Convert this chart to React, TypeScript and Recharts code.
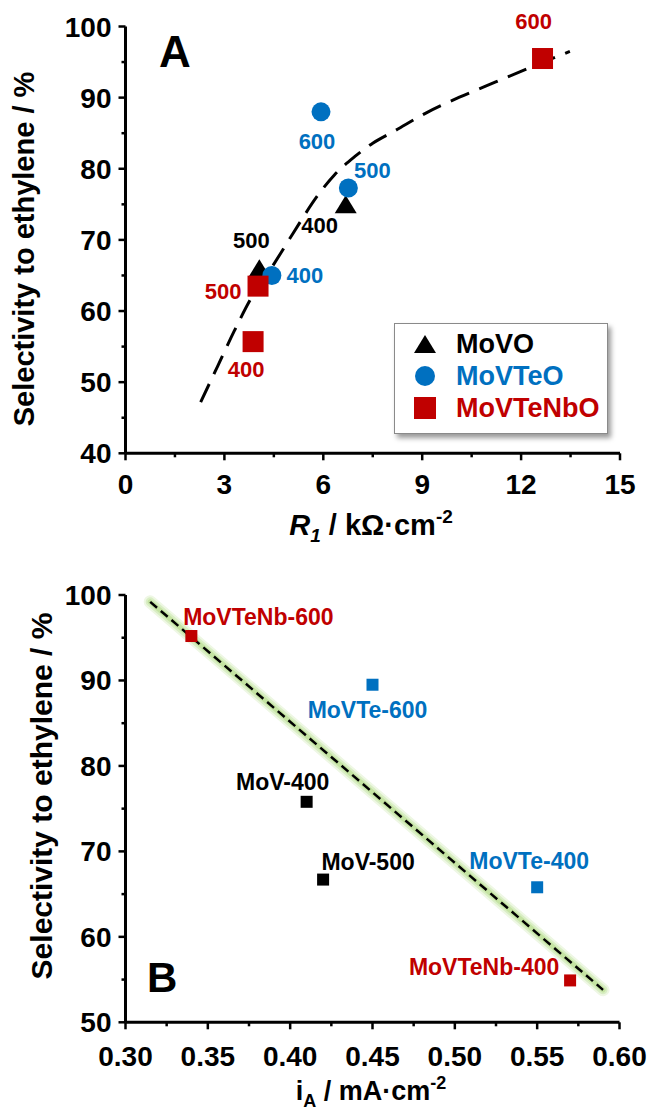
import { ScatterChart, Scatter, XAxis, YAxis, Legend, ReferenceLine } from "recharts";

// ---------- panel A: selectivity vs R1 ----------
const r1Ticks = [0, 1.5, 3, 4.5, 6, 7.5, 9, 10.5, 12, 13.5, 15];
const selTicksA = [40, 45, 50, 55, 60, 65, 70, 75, 80, 85, 90, 95, 100];

const movoR1 = [4.06, 6.68];
const movoSel = [66, 75];
const movoTemp = ["500", "400"];

const movteoR1 = [4.44, 6.76, 5.93];
const movteoSel = [65, 77.3, 88];
const movteoTemp = ["400", "500", "600"];

const movtenboR1 = [3.87, 4.02, 12.65];
const movtenboSel = [55.7, 63.5, 95.5];
const movtenboTemp = ["400", "500", "600"];

// dashed guide curve
const trendR1 = [2.28, 2.79, 3.3, 3.81, 4.5, 5.08, 5.84, 6.35, 6.95, 7.5, 8.12, 9.14, 10.15, 11.23, 12.31, 13.48];
const trendSel = [47.2, 52.2, 57.2, 61.8, 66.6, 70.9, 76.3, 79.2, 81.7, 83.6, 85.2, 87.9, 90.1, 92.2, 94.3, 96.5];

// ---------- panel B: selectivity vs iA ----------
const iaTicks = [0.3, 0.325, 0.35, 0.375, 0.4, 0.425, 0.45, 0.475, 0.5, 0.525, 0.55, 0.575, 0.6];
const selTicksB = [50, 55, 60, 65, 70, 75, 80, 85, 90, 95, 100];

const movIa = [0.41, 0.42];
const movSelB = [75.8, 66.7];
const movNames = ["MoV-400", "MoV-500"];

const movteIa = [0.45, 0.55];
const movteSelB = [89.5, 65.8];
const movteNames = ["MoVTe-600", "MoVTe-400"];

const movtenbIa = [0.34, 0.57];
const movtenbSelB = [95.2, 54.9];
const movtenbNames = ["MoVTeNb-600", "MoVTeNb-400"];

const fitIa = [0.315, 0.59];
const fitSel = [99.2, 53.8];

// ---------- styling ----------
const FONT = "'Liberation Sans', Arial, Helvetica, sans-serif";
const BLACK = "#000000";
const BLUE = "#0070c0";
const RED = "#c00000";

// label offsets from each marker centre, in px
const offsetsA: Record<string, [number, number]> = {
  "MoVO-500": [-8, -28],
  "MoVO-400": [-26, 21],
  "MoVTeO-400": [33, 0],
  "MoVTeO-500": [24, -18],
  "MoVTeO-600": [-4, 29],
  "MoVTeNbO-400": [-7, 27],
  "MoVTeNbO-500": [-35, 5],
  "MoVTeNbO-600": [-9, -37],
};
const offsetsB: Record<string, [number, number]> = {
  "MoVTeNb-600": [67, -19],
  "MoVTe-600": [-5, 25],
  "MoV-400": [-24, -20],
  "MoV-500": [45, -18],
  "MoVTe-400": [-8, -27],
  "MoVTeNb-400": [-86, -14],
};

const toPoints = (xs: number[], ys: number[], labels: string[], prefix: string) =>
  xs.map((x, i) => ({ x, y: ys[i], label: labels[i], key: prefix ? `${prefix}-${labels[i]}` : labels[i] }));

const trendData = trendR1.map((x, i) => ({ x, y: trendSel[i] }));

function makeMarker(kind: string, size: number, color: string, fontSize: number, offsets: Record<string, [number, number]>) {
  return (props: any) => {
    const { cx, cy, payload } = props;
    if (cx == null || cy == null) return <g />;
    const [dx, dy] = offsets[payload.key] ?? [0, 0];
    let mark;
    if (kind === "square") {
      mark = <rect x={cx - size / 2} y={cy - size / 2} width={size} height={size} fill={color} />;
    } else if (kind === "circle") {
      mark = <circle cx={cx} cy={cy} r={size / 2} fill={color} />;
    } else {
      const h = size * 0.82;
      mark = (
        <polygon
          points={`${cx},${cy - h / 2} ${cx - size / 2},${cy + h / 2} ${cx + size / 2},${cy + h / 2}`}
          fill={color}
        />
      );
    }
    return (
      <g>
        {mark}
        <text
          x={cx + dx}
          y={cy + dy + fontSize * 0.36}
          textAnchor="middle"
          fill={color}
          fontFamily={FONT}
          fontWeight="bold"
          fontSize={fontSize}
        >
          {payload.label}
        </text>
      </g>
    );
  };
}

function makeYTick(majorStep: number, fmt: (v: number) => string) {
  return (props: any) => {
    const { x, y, payload } = props;
    const v = payload.value;
    const major = Math.abs(v / majorStep - Math.round(v / majorStep)) < 1e-6;
    return (
      <g>
        <line x1={x} x2={x - (major ? 7 : 4)} y1={y} y2={y} stroke={BLACK} strokeWidth={2.5} />
        {major && (
          <text x={x - 14} y={y + 10} textAnchor="end" fontFamily={FONT} fontWeight="bold" fontSize={28} fill={BLACK}>
            {fmt(v)}
          </text>
        )}
      </g>
    );
  };
}

function makeXTick(majorStep: number, fmt: (v: number) => string, labelDy: number) {
  return (props: any) => {
    const { x, y, payload } = props;
    const v = payload.value;
    const major = Math.abs(v / majorStep - Math.round(v / majorStep)) < 1e-6;
    return (
      <g>
        <line x1={x} x2={x} y1={y} y2={y + (major ? 7 : 4)} stroke={BLACK} strokeWidth={2.5} />
        {major && (
          <text x={x} y={y + labelDy} textAnchor="middle" fontFamily={FONT} fontWeight="bold" fontSize={28} fill={BLACK}>
            {fmt(v)}
          </text>
        )}
      </g>
    );
  };
}

const legendItems = [
  { name: "MoVO", color: BLACK, kind: "triangle" },
  { name: "MoVTeO", color: BLUE, kind: "circle" },
  { name: "MoVTeNbO", color: RED, kind: "square" },
];

function LegendBox() {
  return (
    <div
      style={{
        width: 214,
        height: 111,
        boxSizing: "border-box",
        border: "1.5px solid #8a8a8a",
        background: "#fff",
        boxShadow: "3px 4px 5px rgba(0,0,0,0.4)",
        fontFamily: FONT,
        fontWeight: "bold",
        fontSize: 27,
        paddingTop: 4,
      }}
    >
      {legendItems.map((it) => (
        <div key={it.name} style={{ display: "flex", alignItems: "center", height: 32 }}>
          <svg width={24} height={24} style={{ marginLeft: 18, marginRight: 19 }}>
            {it.kind === "triangle" && <polygon points="12,3 1,21 23,21" fill={it.color} />}
            {it.kind === "circle" && <circle cx={12} cy={12} r={10} fill={it.color} />}
            {it.kind === "square" && <rect x={1} y={1} width={22} height={22} fill={it.color} />}
          </svg>
          <span style={{ color: it.color, lineHeight: "32px" }}>{it.name}</span>
        </div>
      ))}
    </div>
  );
}

const axisLine = { stroke: BLACK, strokeWidth: 3 };

function PanelA() {
  return (
    <ScatterChart width={656} height={560} margin={{ top: 26.5, right: 36, left: 0, bottom: 0 }}>
      <XAxis
        type="number"
        dataKey="x"
        domain={[0, 15]}
        ticks={r1Ticks}
        interval={0}
        height={106.7}
        tickSize={0}
        tickMargin={0}
        tickLine={false}
        axisLine={axisLine}
        tick={makeXTick(3, (v) => String(v), 41)}
        label={{
          content: () => (
            <text x={371} y={535} textAnchor="middle" fontFamily={FONT} fontWeight="bold" fontSize={29} fill={BLACK}>
              <tspan fontStyle="italic">R</tspan>
              <tspan fontStyle="italic" fontSize={19} dy={7}>1</tspan>
              <tspan dy={-7}> / kΩ·cm</tspan>
              <tspan fontSize={19} dy={-12}>-2</tspan>
            </text>
          ),
        }}
      />
      <YAxis
        type="number"
        dataKey="y"
        domain={[40, 100]}
        ticks={selTicksA}
        interval={0}
        width={125.5}
        tickSize={0}
        tickMargin={0}
        tickLine={false}
        axisLine={axisLine}
        tick={makeYTick(10, (v) => String(v))}
        label={{
          content: () => (
            <g>
              <text
                transform="translate(34,249) rotate(-90)"
                textAnchor="middle"
                fontFamily={FONT}
                fontWeight="bold"
                fontSize={29}
                fill={BLACK}
              >
                Selectivity to ethylene / %
              </text>
              <text x={159} y={67} fontFamily={FONT} fontWeight="bold" fontSize={44} fill={BLACK}>
                A
              </text>
            </g>
          ),
        }}
      />
      <Legend
        layout="vertical"
        align="center"
        verticalAlign="middle"
        content={() => <LegendBox />}
        wrapperStyle={{ left: 394, top: 323, width: 214 }}
      />
      <Scatter
        name="trend"
        data={trendData}
        line={{ stroke: BLACK, strokeWidth: 3, strokeDasharray: "20 11" }}
        lineJointType="monotoneX"
        shape={() => <g />}
        legendType="none"
        isAnimationActive={false}
      />
      <Scatter
        name="MoVO"
        data={toPoints(movoR1, movoSel, movoTemp, "MoVO")}
        shape={makeMarker("triangle", 22, BLACK, 22, offsetsA)}
        isAnimationActive={false}
      />
      <Scatter
        name="MoVTeO"
        data={toPoints(movteoR1, movteoSel, movteoTemp, "MoVTeO")}
        shape={makeMarker("circle", 19, BLUE, 22, offsetsA)}
        isAnimationActive={false}
      />
      <Scatter
        name="MoVTeNbO"
        data={toPoints(movtenboR1, movtenboSel, movtenboTemp, "MoVTeNbO")}
        shape={makeMarker("square", 21, RED, 22, offsetsA)}
        isAnimationActive={false}
      />
    </ScatterChart>
  );
}

function PanelB() {
  const seg = [
    { x: fitIa[0], y: fitSel[0] },
    { x: fitIa[1], y: fitSel[1] },
  ];
  return (
    <ScatterChart width={656} height={550} margin={{ top: 35, right: 36.5, left: 0, bottom: 0 }}>
      <XAxis
        type="number"
        dataKey="x"
        domain={[0.3, 0.6]}
        ticks={iaTicks}
        interval={0}
        height={87.7}
        tickSize={0}
        tickMargin={0}
        tickLine={false}
        axisLine={axisLine}
        tick={makeXTick(0.05, (v) => v.toFixed(2), 44)}
        label={{
          content: () => (
            <text x={371} y={540} textAnchor="middle" fontFamily={FONT} fontWeight="bold" fontSize={27} fill={BLACK}>
              <tspan>i</tspan>
              <tspan fontSize={18} dy={7}>A</tspan>
              <tspan dy={-7}> / mA·cm</tspan>
              <tspan fontSize={18} dy={-11}>-2</tspan>
            </text>
          ),
        }}
      />
      <YAxis
        type="number"
        dataKey="y"
        domain={[50, 100]}
        ticks={selTicksB}
        interval={0}
        width={125.5}
        tickSize={0}
        tickMargin={0}
        tickLine={false}
        axisLine={axisLine}
        tick={makeYTick(10, (v) => String(v))}
        label={{
          content: () => (
            <g>
              <text
                transform="translate(52,236) rotate(-90)"
                textAnchor="middle"
                fontFamily={FONT}
                fontWeight="bold"
                fontSize={30}
                fill={BLACK}
              >
                Selectivity to ethylene / %
              </text>
              <text x={147} y={432} fontFamily={FONT} fontWeight="bold" fontSize={42} fill={BLACK}>
                B
              </text>
            </g>
          ),
        }}
      />
      <ReferenceLine segment={seg} stroke="#eef7e4" strokeWidth={13} strokeLinecap="round" />
      <ReferenceLine segment={seg} stroke="#d9eec4" strokeWidth={9} strokeLinecap="round" />
      <ReferenceLine segment={seg} stroke="#c4e3a2" strokeWidth={5} strokeLinecap="round" />
      <ReferenceLine segment={seg} stroke={BLACK} strokeWidth={2.5} strokeDasharray="9 5" />
      <Scatter
        name="MoV"
        data={toPoints(movIa, movSelB, movNames, "")}
        shape={makeMarker("square", 12, BLACK, 23, offsetsB)}
        isAnimationActive={false}
      />
      <Scatter
        name="MoVTe"
        data={toPoints(movteIa, movteSelB, movteNames, "")}
        shape={makeMarker("square", 12, BLUE, 23, offsetsB)}
        isAnimationActive={false}
      />
      <Scatter
        name="MoVTeNb"
        data={toPoints(movtenbIa, movtenbSelB, movtenbNames, "")}
        shape={makeMarker("square", 12, RED, 23, offsetsB)}
        isAnimationActive={false}
      />
    </ScatterChart>
  );
}

export default function App() {
  return (
    <div style={{ position: "absolute", left: 0, top: 0, width: 656, height: 1110, background: "#fff" }}>
      <div style={{ position: "absolute", left: 0, top: 0 }}>
        <PanelA />
      </div>
      <div style={{ position: "absolute", left: 0, top: 560 }}>
        <PanelB />
      </div>
    </div>
  );
}
